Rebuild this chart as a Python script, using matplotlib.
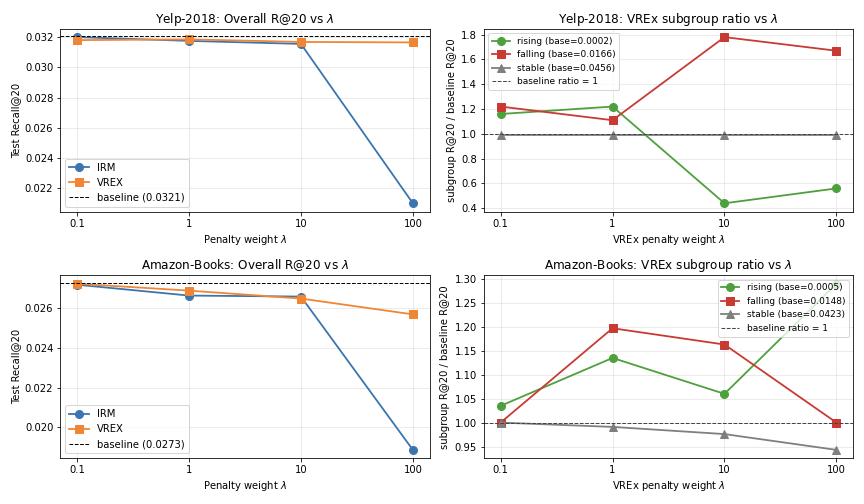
import numpy as np
import matplotlib
matplotlib.use('Agg')
import matplotlib.pyplot as plt

lams = [0.1, 1, 10, 100]

yelp_irm = [0.0320, 0.03175, 0.03155, 0.0210]
yelp_vrex = [0.03180, 0.03185, 0.03168, 0.03165]
yelp_base = 0.0321
yelp_rising = [1.16, 1.22, 0.44, 0.56]
yelp_falling = [1.22, 1.11, 1.78, 1.67]
yelp_stable = [0.99, 0.99, 0.99, 0.99]
yelp_bases = [0.0002, 0.0166, 0.0456]

amz_irm = [0.0272, 0.02665, 0.02660, 0.01885]
amz_vrex = [0.02725, 0.0269, 0.02650, 0.02570]
amz_base = 0.0273
amz_rising = [1.035, 1.135, 1.06, 1.29]
amz_falling = [1.0, 1.197, 1.163, 1.0]
amz_stable = [1.0, 0.991, 0.976, 0.943]
amz_bases = [0.0005, 0.0148, 0.0423]

fig, axes = plt.subplots(2, 2, figsize=(12, 7), dpi=72)


def overall(ax, irm, vrex, base, title, loc):
    ax.plot(lams, irm, '-o', color='#3b75af', lw=1.8, ms=8, label='IRM')
    ax.plot(lams, vrex, '-s', color='#ef8636', lw=1.8, ms=8, label='VREX')
    ax.axhline(base, color='k', ls='--', lw=1, label=f'baseline ({base:.4f})')
    ax.set_xscale('log')
    ax.set_xticks(lams)
    ax.set_xticklabels(['0.1', '1', '10', '100'])
    ax.minorticks_off()
    ax.set_xlabel(r'Penalty weight $\lambda$')
    ax.set_ylabel('Test Recall@20')
    ax.set_title(title)
    ax.grid(alpha=0.3)
    ax.legend(loc=loc)


def ratio(ax, r, f, s, bases, title):
    ax.plot(lams, r, '-o', color='#4e9f3d', lw=1.8, ms=8, label=f'rising (base={bases[0]:.4f})')
    ax.plot(lams, f, '-s', color='#c83a32', lw=1.8, ms=8, label=f'falling (base={bases[1]:.4f})')
    ax.plot(lams, s, '-^', color='#7f7f7f', lw=1.8, ms=8, label=f'stable (base={bases[2]:.4f})')
    ax.axhline(1, color='#444444', ls='--', lw=1, label='baseline ratio = 1')
    ax.set_xscale('log')
    ax.set_xticks(lams)
    ax.set_xticklabels(['0.1', '1', '10', '100'])
    ax.minorticks_off()
    ax.set_xlabel(r'VREx penalty weight $\lambda$')
    ax.set_ylabel('subgroup R@20 / baseline R@20')
    ax.set_title(title)
    ax.grid(alpha=0.3)
    ax.legend(fontsize=9)


overall(axes[0, 0], yelp_irm, yelp_vrex, yelp_base, r'Yelp-2018: Overall R@20 vs $\lambda$', 'lower left')
ratio(axes[0, 1], yelp_rising, yelp_falling, yelp_stable, yelp_bases, r'Yelp-2018: VREx subgroup ratio vs $\lambda$')
overall(axes[1, 0], amz_irm, amz_vrex, amz_base, r'Amazon-Books: Overall R@20 vs $\lambda$', 'lower left')
ratio(axes[1, 1], amz_rising, amz_falling, amz_stable, amz_bases, r'Amazon-Books: VREx subgroup ratio vs $\lambda$')

axes[0, 0].set_yticks([0.022, 0.024, 0.026, 0.028, 0.030, 0.032])
axes[1, 0].set_yticks([0.020, 0.022, 0.024, 0.026])

fig.tight_layout()
fig.savefig('out.png')
